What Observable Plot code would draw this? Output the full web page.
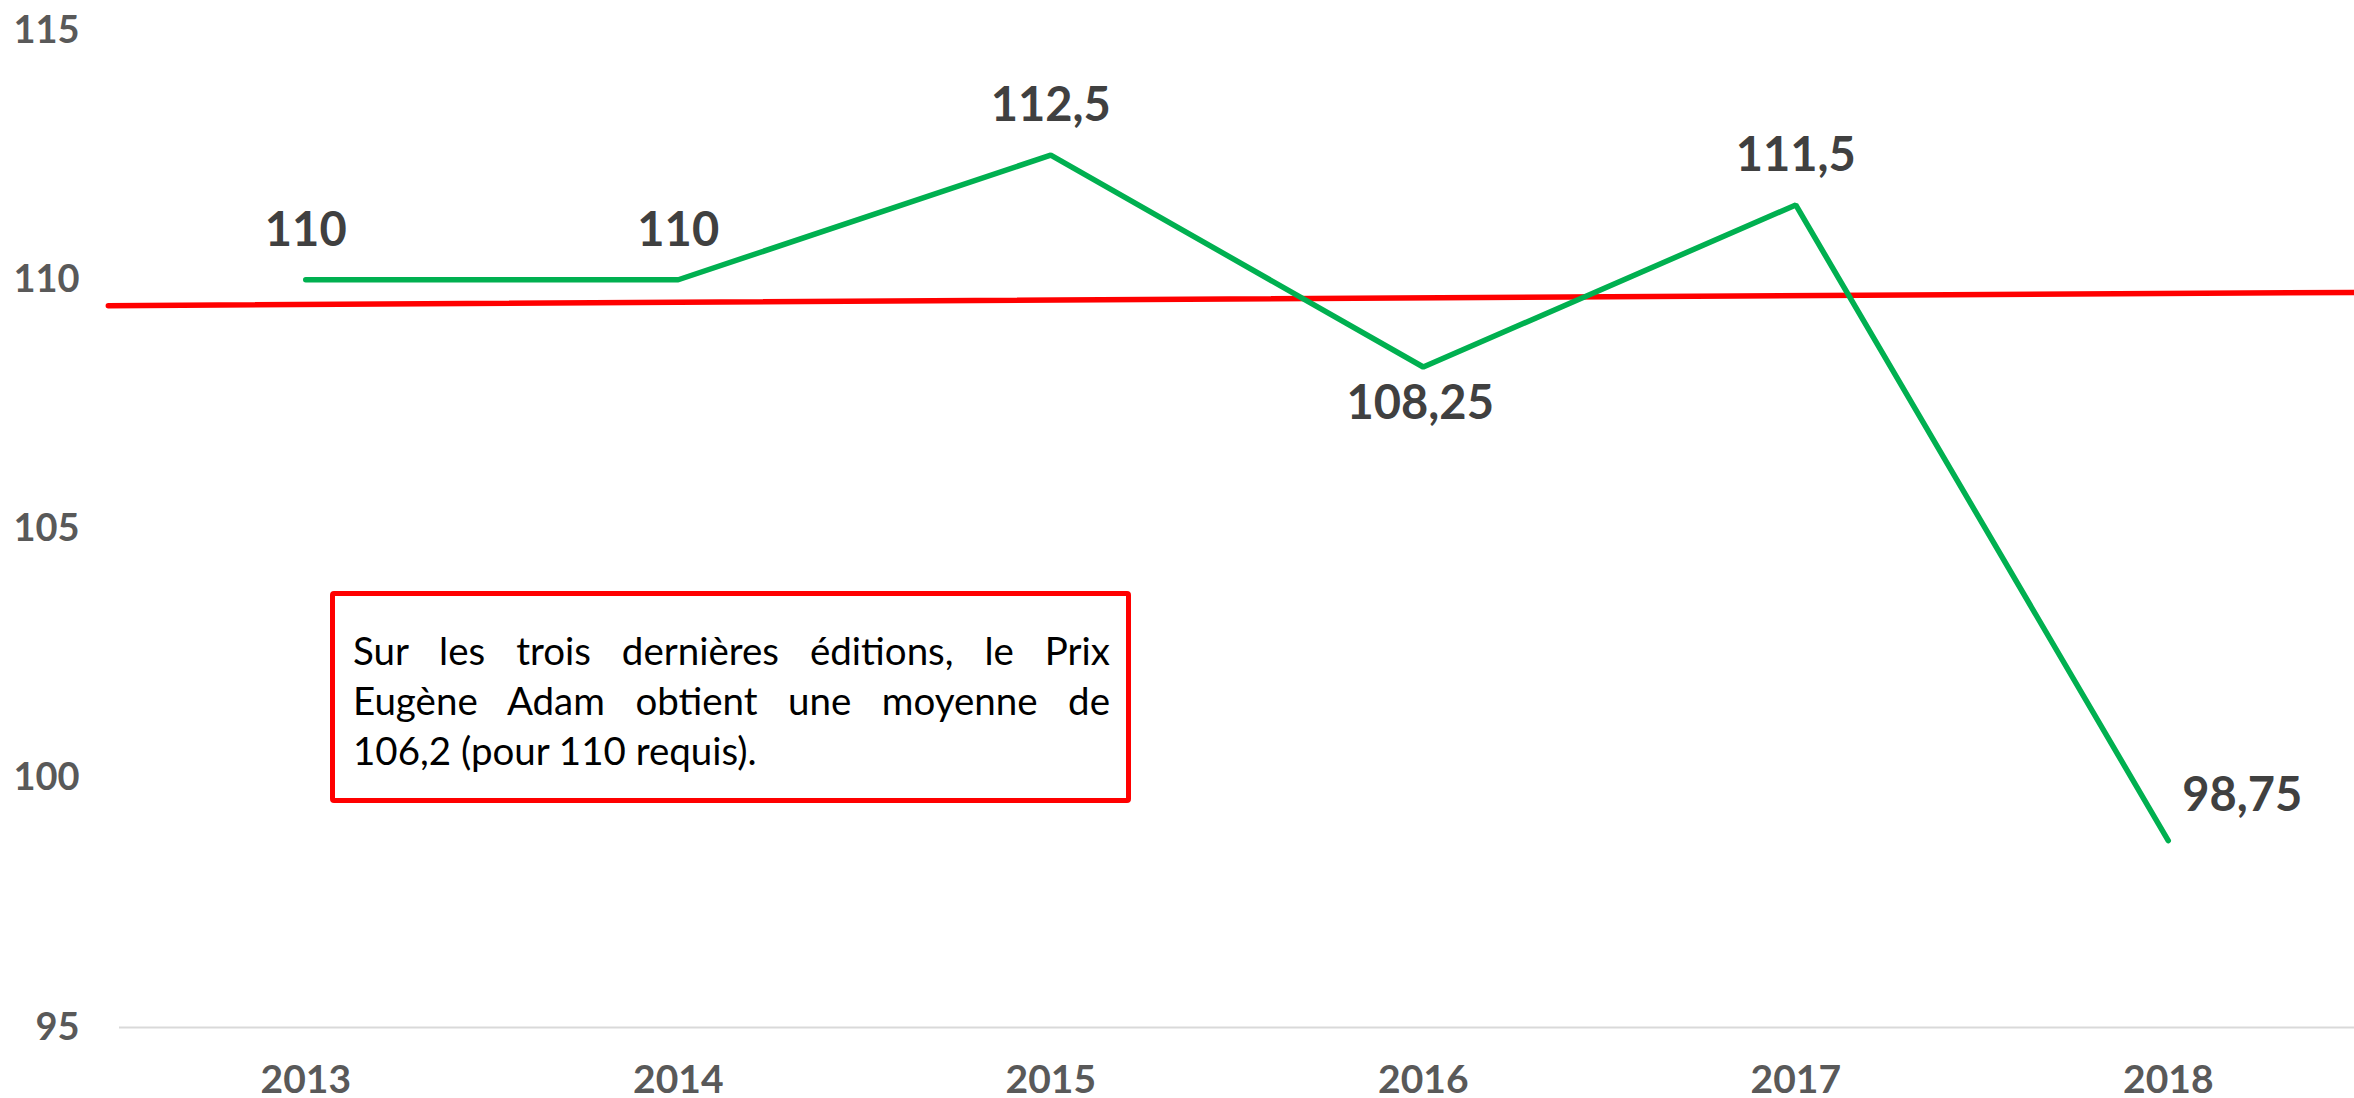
<!DOCTYPE html>
<html>
<head>
<meta charset="utf-8">
<script src="https://cdn.jsdelivr.net/npm/d3@7"></script>
<script src="https://cdn.jsdelivr.net/npm/@observablehq/plot@0.6"></script>
<style>
  html, body { margin: 0; padding: 0; background: #fff; }
  #wrap { position: relative; width: 2354px; height: 1098px; font-family: Lato, "Open Sans", sans-serif; }
  #note {
    position: absolute; left: 330px; top: 591px; width: 801px; height: 212px;
    box-sizing: border-box; border: 5px solid #ff0000; border-radius: 4px; background: #fff;
    padding: 29px 16px 0 18px; font-family: Lato, sans-serif; font-size: 38.5px; line-height: 50px; color: #000;
  }
  #note span { display: block; white-space: nowrap; }
  #note span.j { text-align: justify; text-align-last: justify; }
</style>
</head>
<body>
<div id="wrap"></div>
<script>
const years = [2013, 2014, 2015, 2016, 2017, 2018];
const scores = [110, 110, 112.5, 108.25, 111.5, 98.75];
const trendYears = [2012.47, 2018.5];
const trendValues = [109.48, 109.745];
const yTicks = [95, 100, 105, 110, 115];
const noteLines = [
  "Sur les trois dernières éditions, le Prix",
  "Eugène Adam obtient une moyenne de",
  "106,2 (pour 110 requis)."
];

const data = years.map((y, i) => ({year: y, v: scores[i], i}));
const trend = trendYears.map((y, i) => ({year: y, v: trendValues[i]}));
const fmt = d => String(d).replace(".", ",");
const font = "Lato, 'Open Sans', sans-serif";

const chart = Plot.plot({
  width: 2354,
  height: 1098,
  marginLeft: 119,
  marginRight: 0,
  marginTop: 30,
  marginBottom: 71,
  style: {fontFamily: font, background: "#fff", overflow: "visible"},
  x: {type: "linear", domain: [2012.5, 2018.5], range: [119, 2354]},
  y: {domain: [95, 115]},
  marks: [
    Plot.ruleY([95], {stroke: "#d9d9d9", strokeWidth: 2}),
    Plot.axisY({ticks: yTicks, tickSize: 0, tickPadding: 40, fontSize: 38, fontWeight: "bold", fill: "#595959", label: null}),
    Plot.axisX({ticks: years, tickFormat: d => String(d), tickSize: 0, tickPadding: 38, fontSize: 39, fontWeight: "bold", fill: "#595959", label: null}),
    Plot.line(trend, {x: "year", y: "v", stroke: "#ff0000", strokeWidth: 5.5}),
    Plot.line(data, {x: "year", y: "v", stroke: "#00b050", strokeWidth: 5.5, strokeLinecap: "round", strokeLinejoin: "miter"}),
    Plot.text(data.filter(d => d.i !== 3 && d.i !== 5), {x: "year", y: "v", text: d => fmt(d.v), dy: -49, fontSize: 47, fontWeight: "bold", fill: "#404040", lineAnchor: "middle"}),
    Plot.text(data.filter(d => d.i === 3), {x: "year", y: "v", text: d => fmt(d.v), dy: 37, dx: -3, fontSize: 47, fontWeight: "bold", fill: "#404040", lineAnchor: "middle"}),
    Plot.text(data.filter(d => d.i === 5), {x: "year", y: "v", text: d => fmt(d.v), dy: -45, dx: 14, textAnchor: "start", fontSize: 47, fontWeight: "bold", fill: "#404040", lineAnchor: "middle"})
  ]
});

const wrap = document.getElementById("wrap");
wrap.appendChild(chart);
const note = document.createElement("div");
note.id = "note";
noteLines.forEach((t, i) => {
  const s = document.createElement("span");
  if (i < noteLines.length - 1) s.className = "j";
  s.textContent = t;
  note.appendChild(s);
});
wrap.appendChild(note);
</script>
</body>
</html>
